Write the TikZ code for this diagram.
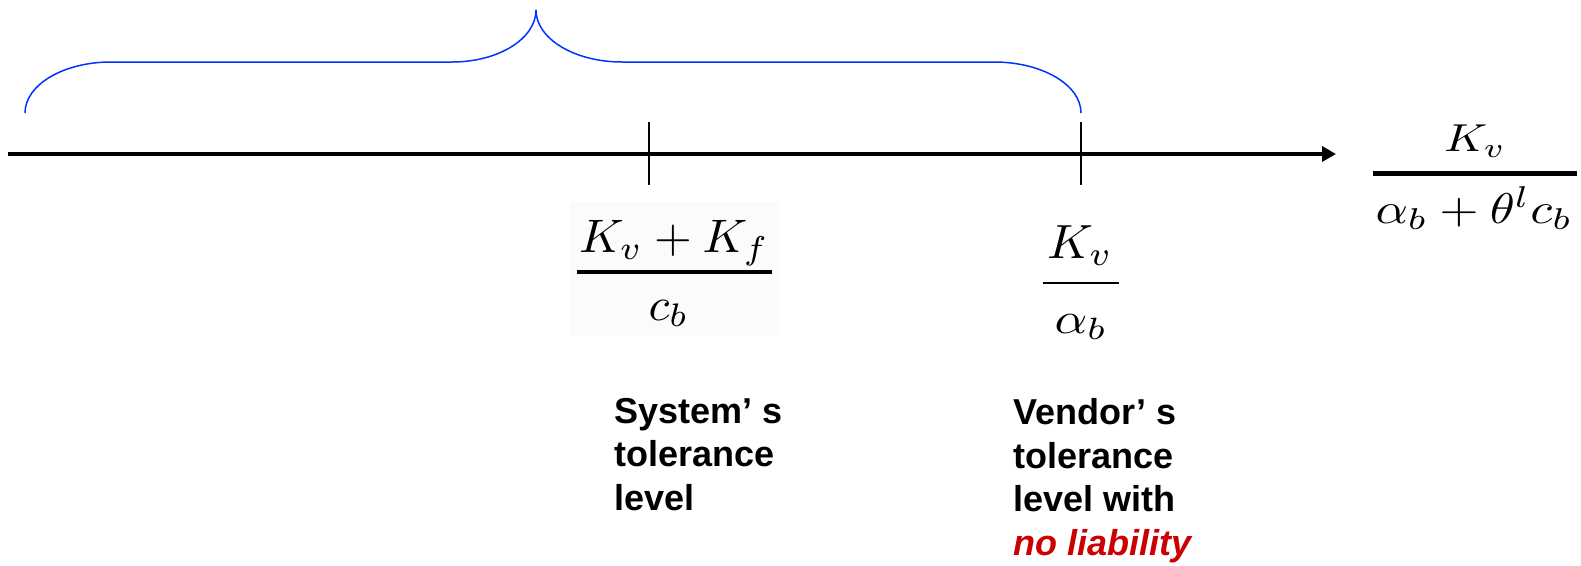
\documentclass[tikz,border=0pt]{standalone}
\usepackage{graphicx}
\usepackage{fontspec}
\usetikzlibrary{arrows.meta}
\newfontfamily\labfont{Liberation Sans}
\definecolor{bracecol}{RGB}{0,51,255}
\definecolor{libred}{RGB}{204,0,0}
% #1 = target width, #2 = vertical scale, #3 = formula
\newcommand\fitmath[3]{\resizebox{#1}{#2\height}{$#3$}}
\tikzset{
  axisline/.style={line width=4pt, -{Triangle[length=14pt,width=15pt]}},
  tickline/.style={line width=2pt},
  bracepath/.style={draw=bracecol, line width=1.5pt},
  mathtext/.style={inner sep=0pt, anchor=base},
  lbl/.style={inner sep=0pt, anchor=base west, align=left,
    font=\labfont\bfseries\fontsize{36}{43.5}\selectfont},
}
\begin{document}
\begin{tikzpicture}[x=1pt,y=-1pt]
\useasboundingbox (0,0) rectangle (1581,565);
% brace
\coordinate (bl) at (25,113);
\coordinate (btip) at (536,10);
\coordinate (br) at (1081,113);
\draw[bracepath] (bl) .. controls (25,84.8) and (63.5,62) .. (111,62) -- (452,62)
  .. controls (498.4,62) and (536,38.7) .. (btip)
  .. controls (536,38.7) and (574.5,62) .. (622,62) -- (994,62)
  .. controls (1042,62) and (1081,84.8) .. (br);
% axis
\coordinate (ax0) at (8,154);
\coordinate (ax1) at (1336,154);
\draw[axisline] (ax0) -- (ax1);
% ticks
\coordinate (t1a) at (648.7,122);
\coordinate (t1b) at (648.7,185);
\coordinate (t2a) at (1080.7,122);
\coordinate (t2b) at (1080.7,185);
\draw[tickline] (t1a) -- (t1b);
\draw[tickline] (t2a) -- (t2b);
% fraction 1 (faint backdrop)
\fill[black!1.5] (570,202) rectangle (780,335);
\node[mathtext] (f1n) at (674,252) {\fitmath{190pt}{4.7}{K_v + K_f}};
\coordinate (f1l) at (577,272.3);
\coordinate (f1r) at (772,272.3);
\draw[line width=4pt] (f1l) -- (f1r);
\node[mathtext] (f1d) at (668.5,320) {\fitmath{40pt}{4.65}{c_b}};
% fraction 2
\node[mathtext] (f2n) at (1080,258) {\fitmath{66pt}{4.8}{K_v}};
\coordinate (f2l) at (1043,283);
\coordinate (f2r) at (1119,283);
\draw[line width=2pt] (f2l) -- (f2r);
\node[mathtext] (f2d) at (1081,333) {\fitmath{53pt}{4.4}{\alpha_b}};
% fraction 3
\node[mathtext] (f3n) at (1475,151.7) {\fitmath{62pt}{3.9}{K_v}};
\coordinate (f3l) at (1373,173);
\coordinate (f3r) at (1577,173);
\draw[line width=5pt] (f3l) -- (f3r);
\node[mathtext] (f3d) at (1474,223) {\fitmath{197pt}{4.3}{\alpha_b + \theta^l c_b}};
% labels (base anchor = baseline of last line)
\node[lbl] (sys) at (614,510) {System’ s\\tolerance\\level};
\node[lbl] (ven) at (1013,555) {Vendor’ s\\tolerance\\level with\\{\color{libred}\itshape no liability}};
\end{tikzpicture}
\end{document}
